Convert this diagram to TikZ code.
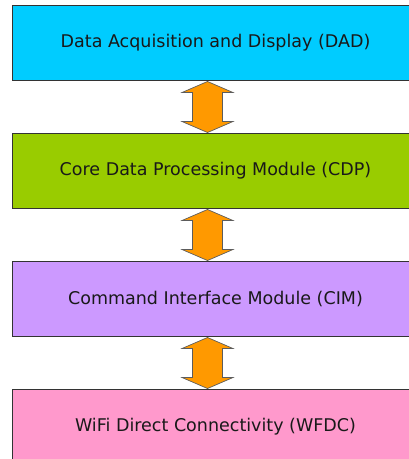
\documentclass[tikz,border=0pt]{standalone}
\usepackage{fontspec}
\setmainfont{DejaVu Sans}
\usepackage{tikz}
\usetikzlibrary{positioning}
\usetikzlibrary{calc}
\definecolor{dadcol}{HTML}{00CCFF}
\definecolor{cdpcol}{HTML}{99CC00}
\definecolor{cimcol}{HTML}{CC99FF}
\definecolor{wfdccol}{HTML}{FF99CC}
\definecolor{linkcol}{HTML}{FF9900}
\definecolor{edgecol}{HTML}{333333}
\def\linkarrow(#1)(#2)% Syntax: (upper box) (lower box)
{ \draw[linkbody] ($(#1.south)+(-8,1)$) -- ++(25.5,11) -- ++(-10.5,0)
	-- ($(#2.north)+(7,-11)$) -- ++(10.5,0) -- ($(#2.north)+(-8,0)$)
	-- ++(-25.5,-11) -- ++(10.5,0) -- ($(#1.south)+(-23,12)$) -- ++(-10.5,0) -- cycle; }

\begin{document}
\begin{tikzpicture}[x=1pt,y=-1pt,
	module/.style={draw=edgecol,line width=1pt,minimum width=407pt,minimum height=75pt,
		inner sep=0pt,text=black!90,font=\fontsize{17.5}{20}\selectfont},
	linkbody/.style={draw=edgecol!80,line width=0.7pt,fill=linkcol,line join=miter},
	node distance=52pt]
	\useasboundingbox (0,0) rectangle (409,459);

	%module boxes
	\node[module,fill=dadcol] (dad) at (215.5,42.5) {Data Acquisition and Display (DAD)};
	\node[module,fill=cdpcol,below=of dad] (cdp) {Core Data Processing Module (CDP)};
	\node[module,fill=cimcol,below=of cdp] (cim) {Command Interface Module (CIM)};
	\node[module,fill=wfdccol,below=of cim] (wfdc) {WiFi Direct Connectivity (WFDC)};

	%double arrows between boxes
	\linkarrow(dad)(cdp)
	\linkarrow(cdp)(cim)
	\linkarrow(cim)(wfdc)
\end{tikzpicture}
\end{document}
